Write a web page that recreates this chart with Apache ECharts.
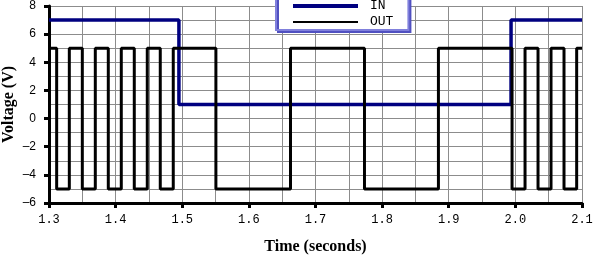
<!DOCTYPE html>
<html>
<head>
<meta charset="utf-8">
<script src="https://cdn.jsdelivr.net/npm/echarts@6/dist/echarts.min.js"></script>
<style>html,body{margin:0;padding:0;background:#fff}#c{width:599px;height:255px}</style>
</head>
<body>
<div id="c"></div>
<script>
// IN signal: level switches at these times (seconds)
const inTimes = [1.3, 1.495, 1.9935, 2.1];
const inLevels = [7, 1, 7, 7];
// OUT signal: level switches at these times (seconds)
const outTimes = [1.3, 1.3115, 1.3305, 1.35, 1.3695, 1.389, 1.4085, 1.428, 1.4475, 1.467, 1.4865,
                  1.5505, 1.6625, 1.7735, 1.8845, 1.995, 2.0145, 2.034, 2.0535, 2.073, 2.092, 2.1];
const outLevels = [5, -5, 5, -5, 5, -5, 5, -5, 5, -5, 5,
                   -5, 5, -5, 5, -5, 5, -5, 5, -5, 5, 5];
const seriesNames = ['IN', 'OUT'];
const xTickLabels = ['1.3', '1.4', '1.5', '1.6', '1.7', '1.8', '1.9', '2.0', '2.1'];
const yTickLabels = ['-6', '-4', '-2', '0', '2', '4', '6', '8'];

const chart = echarts.init(document.getElementById('c'), null, {renderer: 'canvas'});
const gridColor = '#8c8c8c';
const hidden = {color: 'rgba(0,0,0,0)', borderWidth: 0, opacity: 0};
const option = {
  animation: false,
  backgroundColor: '#fff',
  grid: {left: 49, right: 17, top: 6, bottom: 52, containLabel: false, outerBoundsMode: 'none'},
  legend: {
    orient: 'vertical',
    left: 276,
    top: -7,
    padding: [6, 15, 1, 15],
    itemGap: 2,
    itemWidth: 65,
    itemHeight: 14,
    backgroundColor: '#fff',
    borderColor: '#8080dc',
    borderWidth: 2,
    shadowColor: '#5050c0',
    shadowOffsetX: 2,
    shadowOffsetY: 2,
    shadowBlur: 0,
    textStyle: {fontFamily: 'Liberation Mono', fontSize: 13, color: '#000', lineHeight: 14, padding: [0, 0, 0, 7]},
    data: [
      {name: seriesNames[0], lineStyle: {width: 4, color: '#000080'}, itemStyle: hidden},
      {name: seriesNames[1], lineStyle: {width: 2, color: '#000'}, itemStyle: hidden}
    ]
  },
  xAxis: {
    type: 'value', min: 1.3, max: 2.1, interval: 0.1,
    name: 'Time (seconds)', nameLocation: 'middle', nameGap: 36, nameMoveOverlap: false,
    nameTextStyle: {fontFamily: 'Liberation Serif', fontWeight: 'bold', fontSize: 16, color: '#000'},
    axisLine: {show: true, onZero: false, lineStyle: {color: '#000', width: 3}},
    axisTick: {show: true, length: 5, lineStyle: {color: '#000', width: 3}},
    axisLabel: {
      margin: 11, fontFamily: 'Liberation Mono', fontSize: 12, color: '#000',
      formatter: function (v) {
        const s = v.toFixed(1);
        return xTickLabels.indexOf(s) >= 0 ? s : '';
      }
    },
    splitLine: {show: true, lineStyle: {color: gridColor, width: 1}},
    minorTick: {show: false, splitNumber: 2},
    minorSplitLine: {show: true, lineStyle: {color: gridColor, width: 1}}
  },
  yAxis: {
    type: 'value', min: -6, max: 8, interval: 2,
    name: 'Voltage (V)', nameLocation: 'middle', nameGap: 32, nameRotate: 90, nameMoveOverlap: false,
    nameTextStyle: {fontFamily: 'Liberation Serif', fontWeight: 'bold', fontSize: 16, color: '#000'},
    axisLine: {show: true, onZero: false, lineStyle: {color: '#000', width: 3}},
    axisTick: {show: true, length: 5, lineStyle: {color: '#000', width: 3}},
    axisLabel: {
      margin: 13, fontFamily: 'Liberation Sans', fontSize: 12, color: '#000',
      formatter: function (v) {
        const s = String(Math.round(v));
        return yTickLabels.indexOf(s) >= 0 ? s.replace('-', '\u2013') : '';
      }
    },
    splitLine: {show: true, lineStyle: {color: gridColor, width: 1}},
    minorTick: {show: false, splitNumber: 2},
    minorSplitLine: {show: true, lineStyle: {color: gridColor, width: 1}}
  },
  series: [
    {
      name: seriesNames[0], type: 'line', step: 'end', symbol: 'none', showSymbol: false,
      lineStyle: {color: '#000080', width: 3.5}, itemStyle: {color: '#000080'},
      data: inTimes.map((t, i) => [t, inLevels[i]]), z: 3
    },
    {
      name: seriesNames[1], type: 'line', step: 'end', symbol: 'none', showSymbol: false,
      lineStyle: {color: '#000', width: 3}, itemStyle: {color: '#000'},
      data: outTimes.map((t, i) => [t, outLevels[i]]), z: 4
    }
  ]
};
chart.setOption(option);
</script>
</body>
</html>
